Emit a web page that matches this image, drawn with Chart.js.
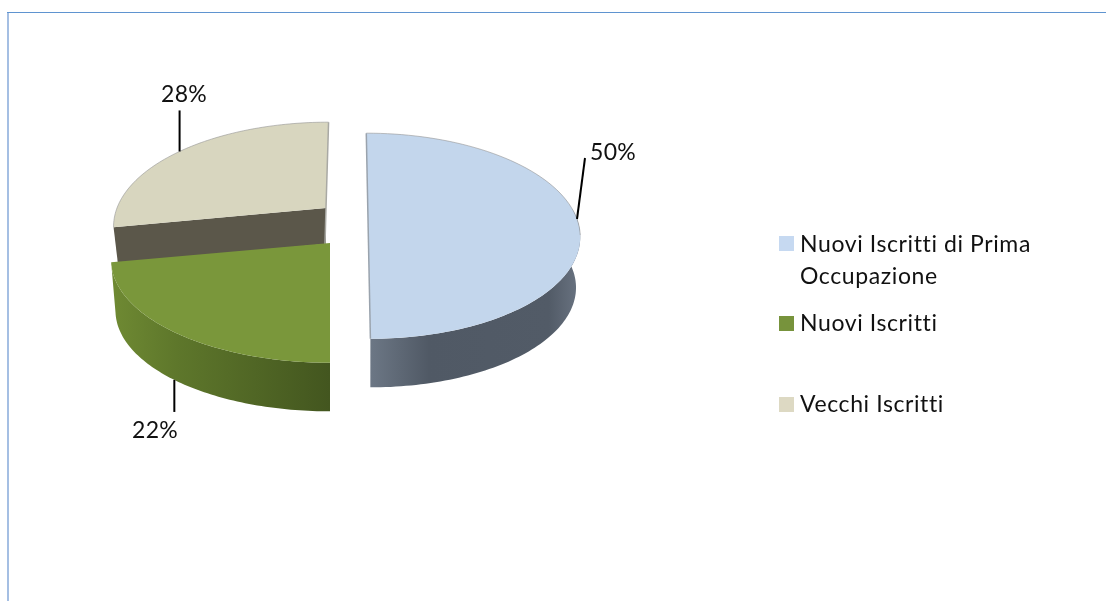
<!DOCTYPE html>
<html><head><meta charset="utf-8">
<style>html,body{margin:0;padding:0;background:#fff;overflow:hidden}canvas{display:block}</style>
<script src="https://cdn.jsdelivr.net/npm/chart.js@4"></script>
</head><body><canvas id="c" width="1106" height="601"></canvas>
<script>
const categories = ['Nuovi Iscritti di Prima Occupazione', 'Nuovi Iscritti', 'Vecchi Iscritti'];
const legendLines = [['Nuovi Iscritti di Prima', 'Occupazione'], ['Nuovi Iscritti'], ['Vecchi Iscritti']];
const values = [50, 22, 28];
const faceColors = ['#c3d6ec', '#7a973b', '#d8d6bf'];
const legendColors = ['#c6d9f1', '#77933c', '#ddd9c3'];
const FONT = '23px Lato, Carlito, sans-serif';

// per-slice placement of the exploded 3D wedges
const K = 0.165, SQUASH = 100 / 209, LOW = 0.98;
const slices = [
  {ax: 368, ay: 219, rs: 1, lean: 2, depth: 51, bandFrom: -0.1, side: [[0, '#6c7785'], [0.28, '#505965'], [0.85, '#525b67'], [1, '#6a7482']]},
  {ax: 330, ay: 243, rs: 1.033, lean: 0, depth: 51, side: [[0, '#6f8a33'], [0.3, '#5e772b'], [1, '#43561f']]},
  {ax: 326, ay: 208, rs: 1, lean: -3, depth: 36, side: [[0, '#5b574a'], [1, '#5b574a']]}
];
function proj(s, ang, r, low) {
  const u = Math.cos(ang) * r, v = Math.sin(ang);
  const w = 1 - K * v;
  const f = low ? LOW : 1;
  return {
    x: s.ax + (u * s.rs + s.lean * v) * f / w,
    y: s.ay + SQUASH * r * v * f / w + (low ? s.depth : 0)
  };
}
function arcPts(s, a0, a1, r, low) {
  const pts = [], n = 80;
  for (let i = 0; i <= n; i++) pts.push(proj(s, a0 + (a1 - a0) * i / n, r, low));
  return pts;
}
function poly(ctx, pts) {
  ctx.beginPath();
  pts.forEach((p, i) => i ? ctx.lineTo(p.x, p.y) : ctx.moveTo(p.x, p.y));
  ctx.closePath();
}
function drawSlice(ctx, arc, i) {
  const s = slices[i], a0 = arc.startAngle, a1 = arc.endAngle, R = arc.outerRadius;
  const apexTop = {x: s.ax, y: s.ay}, apexLow = {x: s.ax, y: s.ay + s.depth};
  const top = arcPts(s, a0, a1, R, false);
  if (i === 2) {
    const corner = proj(s, a0, R, false), cornerLow = proj(s, a0, R, true);
    ctx.fillStyle = s.side[0][1];
    poly(ctx, [apexTop, corner, cornerLow, apexLow]);
    ctx.fill();
  } else {
    const b0 = s.bandFrom !== undefined ? s.bandFrom : a0;
    const bt = arcPts(s, b0, a1, R, false), bl = arcPts(s, b0, a1, R, true);
    const xs = bt.concat(bl).map(p => p.x);
    const g = ctx.createLinearGradient(Math.min(...xs), 0, Math.max(...xs), 0);
    s.side.forEach(([p, c]) => g.addColorStop(p, c));
    ctx.fillStyle = g;
    poly(ctx, bt.concat(bl.slice().reverse()));
    ctx.fill();
  }
  ctx.fillStyle = faceColors[i];
  poly(ctx, [apexTop].concat(top));
  ctx.fill();
  // thin grey edges seen on the back rim and on the cut side
  ctx.lineWidth = 1;
  ctx.strokeStyle = 'rgba(150,150,150,0.6)';
  if (i !== 1) {
    ctx.beginPath();
    top.filter(p => i === 2 || p.y <= s.ay + 20).forEach((p, k) => k ? ctx.lineTo(p.x, p.y) : ctx.moveTo(p.x, p.y));
    ctx.stroke();
  }
  ctx.lineWidth = 1.5;
  ctx.strokeStyle = '#a9a9a4';
  ctx.beginPath();
  if (i === 0) { ctx.moveTo(top[0].x, top[0].y); ctx.lineTo(top[80].x, top[80].y); ctx.strokeStyle = '#9aa3ad'; }
  if (i === 2) { ctx.moveTo(top[80].x, top[80].y); ctx.lineTo(s.ax, s.ay); ctx.lineTo(s.ax - 1, s.ay + s.depth); }
  ctx.stroke();
}
const leaders = [
  {frac: 0.5, low: false, dx: 8, dy: -61, tx: 590, ty: 160},
  {frac: 0.505, low: true, dx: 0, dy: 32, tx: 132, ty: 438},
  {frac: 0.49, low: false, dx: 0, dy: -41, tx: 161, ty: 102}
];
const pie3d = {
  id: 'pie3d',
  beforeDatasetDraw(chart) {
    const ctx = chart.ctx, arcs = chart.getDatasetMeta(0).data;
    ctx.save();
    [2, 1, 0].forEach(i => drawSlice(ctx, arcs[i], i));
    const total = values.reduce((a, b) => a + b, 0);
    ctx.font = FONT; ctx.textBaseline = 'alphabetic'; ctx.textAlign = 'left';
    ctx.letterSpacing = '0.3px';
    values.forEach((val, i) => {
      const a = arcs[i], l = leaders[i], s = slices[i];
      const p = proj(s, a.startAngle + (a.endAngle - a.startAngle) * l.frac, a.outerRadius, l.low);
      ctx.strokeStyle = '#000'; ctx.lineWidth = 2;
      ctx.beginPath(); ctx.moveTo(p.x, p.y); ctx.lineTo(p.x + l.dx, p.y + l.dy); ctx.stroke();
      ctx.fillStyle = '#111';
      ctx.fillText(Math.round(val / total * 100) + '%', l.tx, l.ty);
    });
    // legend
    const swatchTop = [236, 316, 397], baselines = [252, 331, 412];
    ctx.letterSpacing = '0.6px';
    legendLines.forEach((lines, i) => {
      ctx.fillStyle = legendColors[i];
      ctx.fillRect(779, swatchTop[i], 15, 15);
      ctx.fillStyle = '#111';
      lines.forEach((t, k) => ctx.fillText(t, 800, baselines[i] + k * 32));
    });
    ctx.restore();
    return false;
  },
  beforeDraw(chart) {
    const ctx = chart.ctx;
    ctx.save();
    ctx.fillStyle = '#a5bfe3';
    ctx.fillRect(7, 12, 2, 589);
    ctx.fillStyle = '#5f94d0';
    ctx.fillRect(7, 12, 1099, 1);
    ctx.restore();
  }
};
new Chart(document.getElementById('c'), {
  type: 'pie',
  data: {labels: categories, datasets: [{data: values, backgroundColor: legendColors, radius: 209, borderWidth: 0}]},
  options: {
    responsive: false, animation: false,
    layout: {padding: {right: 410, bottom: 151}},
    plugins: {legend: {display: false}, tooltip: {enabled: false}}
  },
  plugins: [pie3d]
});
</script></body></html>
